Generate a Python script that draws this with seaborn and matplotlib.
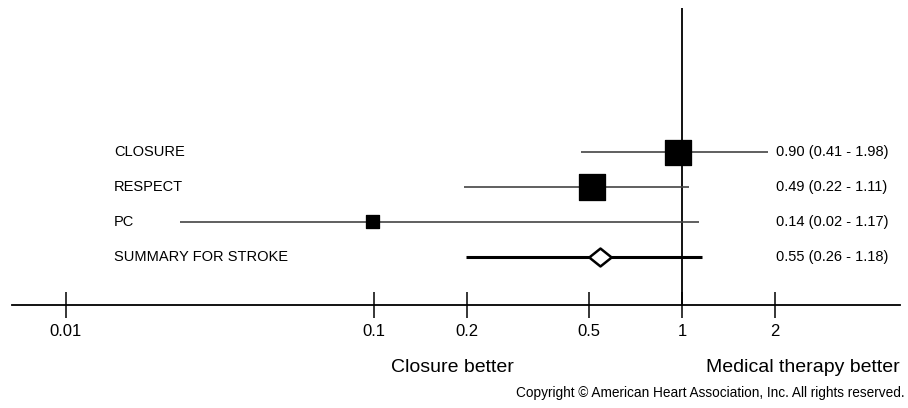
import pandas as pd
import matplotlib.pyplot as plt
import matplotlib.transforms as mtrans
import seaborn as sns

# Forest plot data (values as drawn on the log axis)
studies = ["CLOSURE", "RESPECT", "PC", "SUMMARY FOR STROKE"]
est = [0.97, 0.51, 0.099, 0.54]
lo = [0.47, 0.196, 0.0235, 0.199]
hi = [1.90, 1.05, 1.135, 1.16]
labels = ["0.90 (0.41 - 1.98)", "0.49 (0.22 - 1.11)",
          "0.14 (0.02 - 1.17)", "0.55 (0.26 - 1.18)"]
box_size = [330, 330, 90, 0]
ticks = [0.01, 0.1, 0.2, 0.5, 1, 2]
tick_labels = ["0.01", "0.1", "0.2", "0.5", "1", "2"]

df = pd.DataFrame({"study": studies, "est": est, "lo": lo, "hi": hi,
                   "label": labels, "size": box_size})
df["row"] = range(len(df))

sns.set_style("white")
plt.rcParams["font.family"] = ["Liberation Sans", "DejaVu Sans"]
plt.rcParams["text.color"] = "black"
plt.rcParams["xtick.color"] = "black"

fig = plt.figure(figsize=(9.08, 4.08), dpi=100)
ax = fig.add_axes([12 / 908, (408 - 305) / 408, 888 / 908, 297 / 408])
ax.set_xscale("log")
ax.set_xlim(0.00668, 5.1)
ax.set_ylim(4.39, -4.14)

studies_df = df.iloc[:3]
summ = df.iloc[3:]

# CI lines
ax.hlines(studies_df["row"], studies_df["lo"], studies_df["hi"],
          color="#444444", lw=1.2, zorder=2)
ax.hlines(summ["row"], summ["lo"], summ["hi"], color="black", lw=2.2, zorder=2)

# reference line at 1
ax.axvline(1, color="black", lw=1.3, zorder=1)

# boxes
sns.scatterplot(data=studies_df, x="est", y="row", size="size",
                sizes=(90, 330), marker="s", color="black", edgecolor="black",
                legend=False, ax=ax, zorder=3)

# summary diamond
diamond = [(-1, 0), (0, 0.8), (1, 0), (0, -0.8), (-1, 0)]
sns.scatterplot(data=summ, x="est", y="row", marker=diamond, s=260,
                facecolor="white", edgecolor="black", linewidth=1.8,
                legend=False, ax=ax, zorder=4)

# row labels and estimate text
trans = mtrans.blended_transform_factory(fig.transFigure, ax.transData)
for _, r in df.iterrows():
    ax.text(114 / 908, r["row"], r["study"], transform=trans,
            fontsize=10.5, va="center", ha="left")
    ax.text(776 / 908, r["row"], r["label"], transform=trans,
            fontsize=10.5, va="center", ha="left")

# axis styling
for s in ["top", "right", "left"]:
    ax.spines[s].set_visible(False)
ax.spines["bottom"].set_linewidth(1.3)
ax.spines["bottom"].set_color("black")
ax.set_yticks([])
ax.set_xticks(ticks)
ax.set_xticklabels(tick_labels, fontsize=12)
ax.minorticks_off()
ax.tick_params(axis="x", bottom=True, direction="inout", length=19, width=1.1,
               pad=4, colors="black")
ax.set_xlabel("")
ax.set_ylabel("")

fig.text(452 / 908, 1 - 368 / 408, "Closure better", fontsize=14,
         ha="center", va="center")
fig.text(900 / 908, 1 - 367 / 408, "Medical therapy better", fontsize=14,
         ha="right", va="center")
fig.text(905 / 908, 1 - 393 / 408,
         "Copyright \u00a9 American Heart Association, Inc. All rights reserved.",
         fontsize=9.8, ha="right", va="center")

fig.savefig("out.png", dpi=100)
